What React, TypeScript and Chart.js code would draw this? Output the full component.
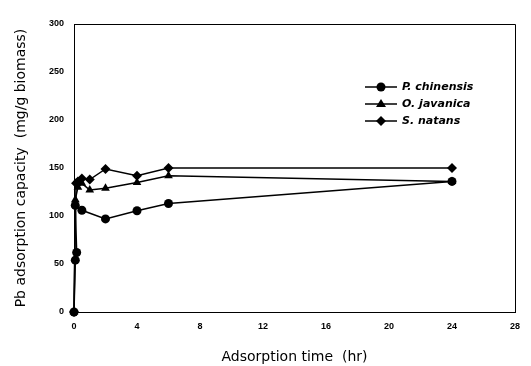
import React, { useEffect, useRef } from "react";
import { Chart, registerables } from "chart.js";

Chart.register(...registerables);

const seriesNames = ["P. chinensis", "O. javanica", "S. natans"];
const pointStyles = ["circle", "triangle", "rectRot"];
const pointRadii = [4.5, 5, 5];

const timePChinensis = [0, 0.083, 0.17, 0.08, 0.5, 2, 4, 6, 24];
const valuesPChinensis = [0, 54, 62, 111, 106, 97, 105.5, 113, 136];

const timeOJavanica = [0, 0.083, 0.25, 0.5, 1, 2, 4, 6, 24];
const valuesOJavanica = [0, 117, 130, 134, 127, 129, 135, 142, 136];

const timeSNatans = [0, 0.13, 0.25, 0.5, 1, 2, 4, 6, 24];
const valuesSNatans = [0, 134, 136, 139, 138, 149, 142, 150, 150];

const xTicks = [0, 4, 8, 12, 16, 20, 24, 28];
const yTicks = [0, 50, 100, 150, 200, 250, 300];

const xTitle = "Adsorption time  (hr)";
const yTitle = "Pb adsorption capacity  (mg/g biomass)";

const toPoints = (xs: number[], ys: number[]) => xs.map((x, i) => ({ x, y: ys[i] }));

const tickFont = { family: "'Liberation Sans', Arial, sans-serif", size: 9, weight: "bold" };
const titleFont = { family: "'DejaVu Sans', sans-serif", size: 14 };

const App = () => {
  const ref = useRef<HTMLCanvasElement | null>(null);
  useEffect(() => {
    if (!ref.current) return;
    const boxPlugin = {
      id: "boxAndLegend",
      afterDraw(chart: any) {
        const { ctx, chartArea } = chart;
        ctx.save();
        ctx.strokeStyle = "#000";
        ctx.lineWidth = 1;
        ctx.beginPath();
        ctx.moveTo(chartArea.left, chartArea.top + 0.5);
        ctx.lineTo(chartArea.right + 0.5, chartArea.top + 0.5);
        ctx.lineTo(chartArea.right + 0.5, chartArea.bottom);
        ctx.stroke();
        // legend
        const rows = [87, 104, 121];
        chart.data.datasets.forEach((ds: any, i: number) => {
          const y = rows[i];
          ctx.strokeStyle = "#000";
          ctx.lineWidth = 1.5;
          ctx.beginPath();
          ctx.moveTo(365, y);
          ctx.lineTo(397, y);
          ctx.stroke();
          ctx.fillStyle = "#000";
          const r = pointRadii[i];
          ctx.beginPath();
          if (pointStyles[i] === "circle") {
            ctx.arc(381, y, r, 0, Math.PI * 2);
          } else if (pointStyles[i] === "triangle") {
            ctx.moveTo(381, y - r);
            ctx.lineTo(381 + r, y + r * 0.6);
            ctx.lineTo(381 - r, y + r * 0.6);
            ctx.closePath();
          } else {
            ctx.moveTo(381, y - r);
            ctx.lineTo(381 + r, y);
            ctx.lineTo(381, y + r);
            ctx.lineTo(381 - r, y);
            ctx.closePath();
          }
          ctx.fill();
          ctx.font = "italic bold 11px 'DejaVu Sans', sans-serif";
          ctx.textBaseline = "middle";
          ctx.textAlign = "left";
          ctx.fillText(ds.label, 402, y + 0.5);
        });
        ctx.restore();
      },
    };
    const mk = (i: number, xs: number[], ys: number[]) => ({
      label: seriesNames[i],
      data: toPoints(xs, ys),
      showLine: true,
      clip: false,
      borderColor: "#000",
      backgroundColor: "#000",
      borderWidth: 1.5,
      pointStyle: pointStyles[i],
      pointRadius: pointRadii[i],
      pointBorderWidth: 0,
      pointBackgroundColor: "#000",
      tension: 0,
    });
    const chart = new Chart(ref.current, {
      type: "scatter",
      data: {
        datasets: [
          mk(0, timePChinensis, valuesPChinensis),
          mk(1, timeOJavanica, valuesOJavanica),
          mk(2, timeSNatans, valuesSNatans),
        ],
      },
      plugins: [boxPlugin],
      options: {
        animation: false,
        responsive: false,
        layout: { padding: { top: 24, right: 16, left: 0, bottom: 0 } },
        plugins: { legend: { display: false }, tooltip: { enabled: false } },
        scales: {
          x: {
            type: "linear",
            min: 0,
            max: 28,
            afterBuildTicks: (axis: any) => {
              axis.ticks = xTicks.map((v) => ({ value: v }));
            },
            afterFit: (axis: any) => {
              axis.height = 54;
            },
            grid: { display: false, drawTicks: true, tickLength: 4, tickColor: "#000" },
            border: { display: true, color: "#000", width: 1 },
            ticks: {
              color: "#000",
              padding: 5,
              maxRotation: 0,
              font: tickFont,
            },
            title: {
              display: true,
              text: xTitle,
              color: "#000",
              padding: { top: 14, bottom: 0 },
              font: titleFont,
            },
          },
          y: {
            type: "linear",
            min: 0,
            max: 300,
            afterBuildTicks: (axis: any) => {
              axis.ticks = yTicks.map((v) => ({ value: v }));
            },
            afterFit: (axis: any) => {
              axis.width = 74;
            },
            grid: { display: false, drawTicks: true, tickLength: 4, tickColor: "#000" },
            border: { display: true, color: "#000", width: 1 },
            ticks: {
              color: "#000",
              padding: 6,
              font: tickFont,
            },
            title: {
              display: true,
              text: yTitle,
              color: "#000",
              padding: { top: 13, bottom: 0 },
              font: titleFont,
            },
          },
        },
      },
    } as any);
    return () => chart.destroy();
  }, []);
  return (
    <div style={{ position: "fixed", left: 0, top: 0, width: 531, height: 366, background: "#fff" }}>
      <canvas ref={ref} width={531} height={366} style={{ width: 531, height: 366 }} />
    </div>
  );
};

export default App;
